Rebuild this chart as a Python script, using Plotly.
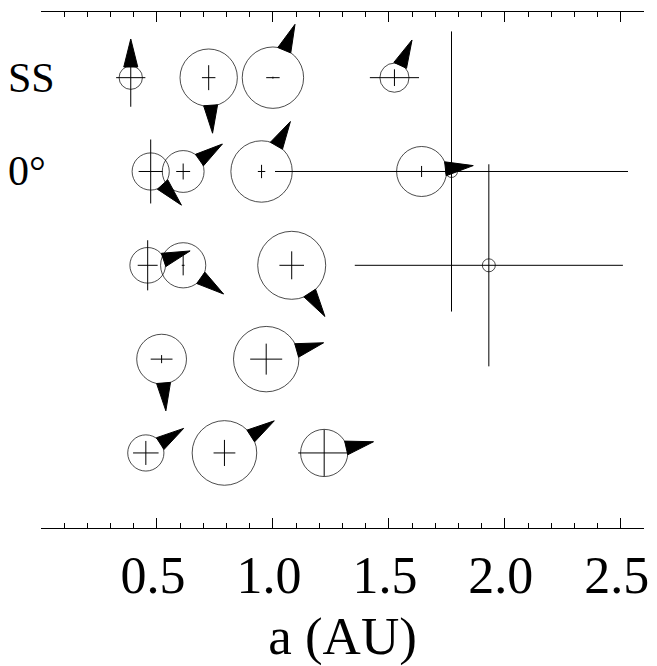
import math
import plotly.graph_objects as go

# ---- data ----
row_labels = ["SS", "0°", "", "", ""]
row_y = [5, 4, 3, 2, 1]

# semimajor axis (AU), mass (Earth masses), horizontal extent (AU), vertical extent (row units), arrow angle (deg)
r0_a = [0.387, 0.723, 1.000, 1.524]
r0_m = [0.055, 0.815, 1.000, 0.107]
r0_ea = [0.063, 0.029, 0.029, 0.106]
r0_ei = [0.310, 0.133, 0.010, 0.089]
r0_w = [90, -86, 67.5, 65]

r1_a = [0.473, 0.613, 0.951, 1.641, 1.770]
r1_m = [0.222, 0.316, 1.000, 0.540, 0.0075]
r1_ea = [0.052, 0.030, 0.016, 0.180, 0.761]
r1_ei = [0.341, 0.085, 0.071, 0.059, 1.493]
r1_w = [-47.6, 35, 60, 6.5, None]

r2_a = [0.460, 0.613, 1.081, 1.931]
r2_m = [0.195, 0.399, 1.358, 0.0095]
r2_ea = [0.043, 0.006, 0.053, 0.578]
r2_ei = [0.267, 0.107, 0.149, 1.077]
r2_w = [18.7, -35.4, -57, None]

r3_a = [0.520, 0.971]
r3_m = [0.533, 1.208]
r3_ea = [0.047, 0.069]
r3_ei = [0.043, 0.165]
r3_w = [-85.3, 15.9]

r4_a = [0.452, 0.791, 1.221]
r4_m = [0.205, 1.165, 0.454]
r4_ea = [0.055, 0.047, 0.112]
r4_ei = [0.128, 0.139, 0.249]
r4_w = [33, 32.8, 12.8]

tick_vals = [0.0, 0.5, 1.0, 1.5, 2.0, 2.5]
tick_text = ["", "0.5", "1.0", "1.5", "2.0", "2.5"]

systems = [
    (r0_a, r0_m, r0_ea, r0_ei, r0_w),
    (r1_a, r1_m, r1_ea, r1_ei, r1_w),
    (r2_a, r2_m, r2_ea, r2_ei, r2_w),
    (r3_a, r3_m, r3_ea, r3_ei, r3_w),
    (r4_a, r4_m, r4_ea, r4_ei, r4_w),
]

# ---- style ----
R_EARTH_PX = 30.7   # circle radius (px) of a 1 Earth-mass planet
ARROW_LEN = 27
ARROW_HALF = 7
SERIF = "Liberation Serif"

fig = go.Figure()
shapes = []

for (a, m, ea, ei, w), yv in zip(systems, row_y):
    radii = [R_EARTH_PX * mm ** (1.0 / 3.0) for mm in m]
    fig.add_trace(go.Scatter(
        x=a, y=[yv] * len(a),
        mode="markers",
        marker=dict(symbol="circle-open", size=[2 * r for r in radii],
                    color="black", line=dict(width=1, color="black")),
        error_x=dict(type="data", symmetric=True, array=ea, width=0,
                     thickness=1, color="black"),
        error_y=dict(type="data", symmetric=True, array=ei, width=0,
                     thickness=1, color="black"),
        showlegend=False, hoverinfo="skip",
    ))
    for xa, r, ang in zip(a, radii, w):
        if ang is None:
            continue
        t = math.radians(ang)
        c, s = math.cos(t), math.sin(t)
        rb = r - 1
        p1 = (rb * c - ARROW_HALF * s, rb * s + ARROW_HALF * c)
        p2 = (rb * c + ARROW_HALF * s, rb * s - ARROW_HALF * c)
        p3 = ((r + ARROW_LEN) * c, (r + ARROW_LEN) * s)
        path = "M {:.2f},{:.2f} L {:.2f},{:.2f} L {:.2f},{:.2f} Z".format(
            p1[0], p1[1], p3[0], p3[1], p2[0], p2[1])
        shapes.append(dict(type="path", xref="x", yref="y",
                           xsizemode="pixel", ysizemode="pixel",
                           xanchor=xa, yanchor=yv, path=path,
                           fillcolor="black", line=dict(color="black", width=1)))

annotations = []
for lab, yv in zip(row_labels, row_y):
    if not lab:
        continue
    annotations.append(dict(text=lab, xref="paper", yref="y", x=-0.058, y=yv,
                             xanchor="left", yanchor="middle", showarrow=False,
                             font=dict(family=SERIF, size=42, color="black")))

# the page body adds an 8px offset; margins below compensate for it
fig.update_layout(
    width=649, height=658,
    margin=dict(l=33, r=13, t=4, b=138),
    paper_bgcolor="white", plot_bgcolor="white",
    shapes=shapes, annotations=annotations,
    xaxis=dict(
        range=[0, 2.6], showgrid=False, zeroline=False,
        showline=True, linecolor="black", linewidth=1, mirror="ticks",
        ticks="inside", ticklen=10, tickwidth=1, tickcolor="black",
        tickmode="array", tickvals=tick_vals, ticktext=tick_text,
        minor=dict(ticks="inside", ticklen=5, tickwidth=1, tickcolor="black",
                   dtick=0.1, tick0=0),
        tickfont=dict(family=SERIF, size=52, color="black"),
        ticklabelstandoff=2, ticklabelshift=-4, ticklabeloverflow="allow",
        title=dict(text="a (AU)", font=dict(family=SERIF, size=53, color="black"),
                   standoff=16),
    ),
    yaxis=dict(range=[0.2, 5.7], showgrid=False, zeroline=False, showline=False,
               showticklabels=False, ticks=""),
)

fig.write_html("out.html")
